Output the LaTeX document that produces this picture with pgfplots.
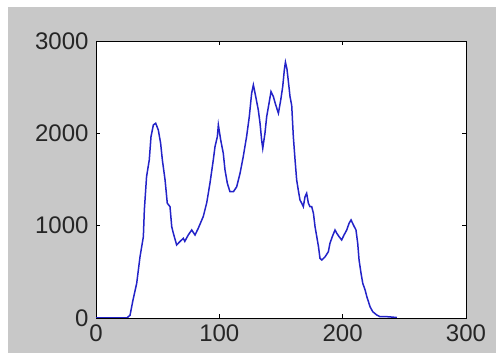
\documentclass[border=0pt]{standalone}
\usepackage{pgfplots}
\pgfplotsset{compat=1.18}
\usepackage{fontspec}
\setmainfont{Liberation Sans}
\definecolor{figgray}{RGB}{200,200,200}
\definecolor{lineblue}{RGB}{35,35,200}
\begin{document}
\begin{tikzpicture}
\fill[white] (0pt,0pt) rectangle (496pt,353pt);
\fill[figgray] (8pt,0pt) rectangle (496pt,346pt);
\begin{axis}[
  at={(96pt,35pt)}, anchor=south west,
  width=370pt, height=277pt, scale only axis,
  xmin=0, xmax=300, ymin=0, ymax=3000,
  xtick={0,100,200,300}, ytick={0,1000,2000,3000},
  axis background/.style={fill=white},
  axis line style={black, line width=0.9pt},
  tick style={black, line width=0.9pt},
  major tick length=4pt, tick align=inside,
  ticklabel style={font=\fontsize{24}{24}\selectfont, text=black!85},
  xticklabel style={yshift=-3pt},
  yticklabel style={xshift=-4pt},
  /pgf/number format/assume math mode=true,
  /pgf/number format/1000 sep={},
  scaled ticks=false,
]
\addplot[lineblue, line width=1.5pt] coordinates {
(0,0)(25,0)(27.6,30)(30,195)(33,376)(35.7,664)(38.4,881)(39.2,1170)(41,1531)(43.2,1712)(44.6,1964)(46.5,2091)(48.4,2109)(50.5,2037)(52.4,1893)(53.8,1712)(56,1495)(57.8,1243)(60,1206)(61.4,989)(62.7,918)(65.4,791)(68,827)(70.8,863)(72,830)(74.8,899)(77.6,953)(80.3,899)(82.9,971)(87,1100)(89.8,1250)(92.4,1459)(95.1,1712)(96.5,1856)(98.4,1964)(99.2,2091)(101.1,1928)(103.2,1784)(104.6,1603)(106.5,1459)(108.6,1368)(111.4,1368)(114.1,1422)(116.8,1567)(119.4,1748)(122.1,1964)(124.3,2181)(126.2,2434)(127.6,2524)(129.5,2398)(131.6,2253)(133,2109)(134.3,1928)(135.2,1838)(137,2001)(138.4,2181)(140.3,2326)(141.9,2452)(143.8,2398)(145.7,2308)(147.9,2218)(149.8,2362)(151.4,2506)(152.7,2687)(153.6,2770)(154.8,2700)(156,2560)(157.3,2400)(158.7,2300)(160,1964)(161.4,1712)(162.7,1495)(164,1387)(165.4,1278)(166.8,1243)(168.1,1206)(169.5,1314)(170.8,1351)(172.2,1243)(173.5,1206)(174.9,1206)(176.3,1134)(177.6,989)(179,881)(180.4,772)(181.6,647)(183.1,628)(185.8,664)(188.4,718)(189.7,809)(191.6,881)(193.8,953)(195.2,918)(197.1,881)(199.2,845)(201.1,899)(203.3,953)(205.2,1026)(206.8,1062)(208.7,1008)(210.8,953)(212.2,809)(213.3,628)(214.9,484)(216.3,376)(218.2,303)(219.6,231)(220.9,177)(222.2,122)(224.4,68)(227.6,33)(230.3,14)(235,15)(240,10)(244,5)
};
\end{axis}
\end{tikzpicture}
\end{document}
